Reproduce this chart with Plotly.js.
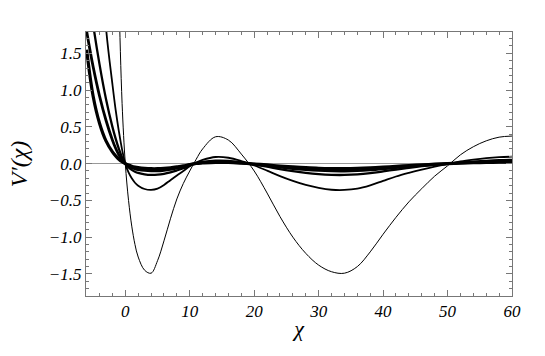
<!DOCTYPE html>
<html>
<head>
<meta charset="utf-8">
<script src="https://cdn.plot.ly/plotly-3.0.1.min.js"></script>
</head>
<body style="margin:0">
<div id="plot" style="width:545px;height:356px"></div>
<script>
// chi grid shared by all curves
const chi = [-6, -5, -4, -3, -2, -1.5, -1, -0.5, 0, 0.5, 1, 1.5, 2, 3, 4, 5, 6, 7, 8, 9, 10, 11, 12,
    14, 16, 18, 20, 22, 24, 26, 28, 30, 32, 34, 36, 38, 40, 42, 44, 46, 48, 50, 52, 54, 56, 58, 60]

// thickest curve
const vA = [1.55, 0.92, 0.55, 0.31, 0.16, 0.105, 0.06, 0.025, 0, -0.02, -0.035, -0.046, -0.054, -0.064, -0.069, -0.069, -0.065, -0.057, -0.045, -0.031, -0.012, 0.003, 0.009,
    0.017, 0.016, 0.007, -0.005, -0.018, -0.032, -0.045, -0.055, -0.063, -0.067, -0.068, -0.065, -0.058, -0.048, -0.037, -0.026, -0.016, -0.008, -0.001, 0.006, 0.012, 0.016, 0.02, 0.022]
const vB = [1.8, 1.32, 0.92, 0.59, 0.32, 0.21, 0.12, 0.05, 0, -0.033, -0.055, -0.07, -0.08, -0.093, -0.099, -0.098, -0.09, -0.077, -0.06, -0.041, -0.016, 0.004, 0.014,
    0.026, 0.024, 0.01, -0.008, -0.027, -0.048, -0.067, -0.082, -0.093, -0.099, -0.1, -0.096, -0.085, -0.07, -0.053, -0.037, -0.023, -0.011, -0.001, 0.009, 0.017, 0.024, 0.03, 0.034]
const vC = [2.6, 1.9, 1.35, 0.88, 0.5, 0.34, 0.2, 0.085, 0, -0.05, -0.085, -0.11, -0.127, -0.145, -0.153, -0.15, -0.138, -0.118, -0.092, -0.063, -0.025, 0.005, 0.022,
    0.04, 0.037, 0.016, -0.012, -0.042, -0.075, -0.103, -0.127, -0.144, -0.153, -0.154, -0.147, -0.13, -0.106, -0.08, -0.056, -0.035, -0.017, -0.002, 0.013, 0.026, 0.037, 0.046, 0.052]
const vD = [null, null, 3.2, 1.85, 1.08, 0.73, 0.44, 0.19, 0, -0.12, -0.2, -0.26, -0.3, -0.345, -0.357, -0.34, -0.29, -0.225, -0.16, -0.1, -0.035, 0.015, 0.05,
    0.09, 0.08, 0.035, -0.025, -0.095, -0.17, -0.235, -0.29, -0.33, -0.355, -0.358, -0.34, -0.295, -0.235, -0.175, -0.125, -0.08, -0.04, -0.005, 0.03, 0.055, 0.075, 0.088, 0.094]
// thinnest curve
const vE = [null, null, null, null, null, 4.2, 2.3, 0.82, 0, -0.5, -0.85, -1.1, -1.27, -1.45, -1.49, -1.32, -1.05, -0.75, -0.48, -0.27, -0.1, 0.06, 0.2,
    0.365, 0.32, 0.13, -0.1, -0.4, -0.72, -1.0, -1.22, -1.38, -1.47, -1.49, -1.4, -1.2, -0.96, -0.73, -0.52, -0.34, -0.17, -0.03, 0.12, 0.23, 0.31, 0.36, 0.375]

const curves = [vA, vB, vC, vD, vE]
const widths = [3.2, 2.8, 2.3, 1.8, 1.0]

let plotData = curves.map((v, i) => ({
    type: 'scatter',
    mode: 'lines',
    x: chi,
    y: v,
    line: {color: 'black', width: widths[i], shape: 'spline', smoothing: 1},
    hoverinfo: 'skip'
}))

const serif = 'Liberation Serif'
const tickFont = {family: serif, size: 17, style: 'italic', color: 'black'}

let layout = {
    width: 545,
    height: 356,
    margin: {l: 86, r: 33, t: 32, b: 60},
    paper_bgcolor: 'white',
    plot_bgcolor: 'white',
    showlegend: false,
    xaxis: {
        range: [-6.1, 60],
        tickvals: [0, 10, 20, 30, 40, 50, 60],
        ticks: 'inside',
        ticklen: 6,
        tickcolor: '#777',
        minor: {ticks: 'inside', dtick: 2, ticklen: 3, tickcolor: '#777'},
        showgrid: false,
        zeroline: false,
        showline: true,
        linecolor: '#777',
        linewidth: 1,
        mirror: 'allticks',
        tickfont: tickFont,
        title: {text: 'χ', font: {family: serif, size: 22, style: 'italic', color: 'black'}, standoff: 0}
    },
    yaxis: {
        range: [-1.8, 1.79],
        tickvals: [-1.5, -1, -0.5, 0, 0.5, 1, 1.5],
        tickformat: '.1f',
        ticks: 'inside',
        ticklen: 6,
        tickcolor: '#777',
        minor: {ticks: 'inside', dtick: 0.1, ticklen: 3, tickcolor: '#777'},
        showgrid: false,
        zeroline: true,
        zerolinecolor: '#999',
        zerolinewidth: 1,
        showline: true,
        linecolor: '#777',
        linewidth: 1,
        mirror: 'allticks',
        tickfont: tickFont,
        title: {text: 'V′(χ)', font: {family: serif, size: 24, style: 'italic', color: 'black'}, standoff: 14}
    }
}

Plotly.newPlot('plot', plotData, layout, {staticPlot: true})
</script>
</body>
</html>
